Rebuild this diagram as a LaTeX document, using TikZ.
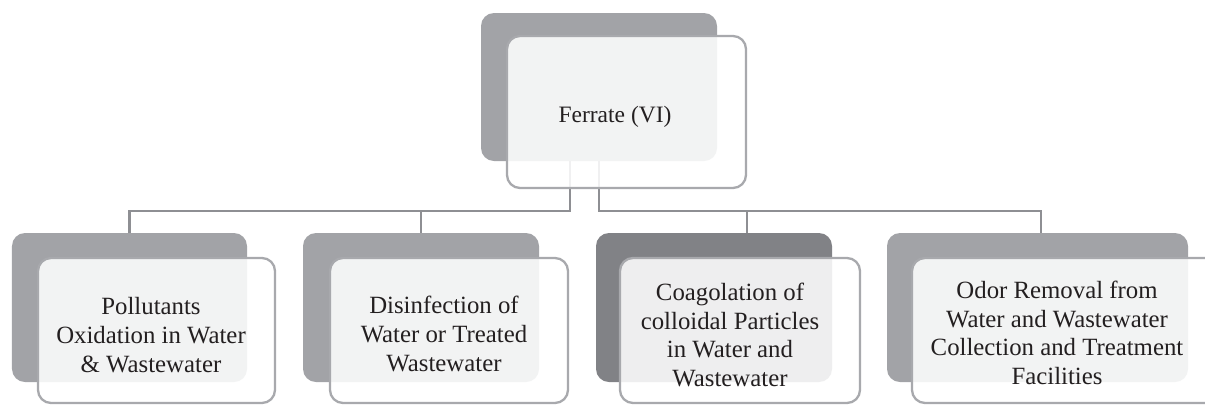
\documentclass[tikz,border=0pt]{standalone}
\usepackage{fontspec}
\setmainfont{Liberation Serif}
\definecolor{boxgray}{HTML}{A2A3A7}
\definecolor{boxdark}{HTML}{818286}
\definecolor{linegray}{HTML}{8E8F93}
\definecolor{edgegray}{HTML}{A8A9AD}
\definecolor{inkcol}{HTML}{231F20}
\begin{document}
\begin{tikzpicture}[x=1bp,y=-1bp,
  darkbox/.style={draw=none, fill=boxgray, rounded corners=13bp, inner sep=0pt, minimum width=236bp, minimum height=149bp},
  lightbox/.style={draw=edgegray, line width=2.3bp, fill=white, fill opacity=0.87, rounded corners=13bp, inner sep=0pt, minimum width=238bp, minimum height=145bp},
  txt/.style={align=center, font=\fontsize{24.8bp}{28.6bp}\selectfont, text=inkcol, inner sep=0pt},
  conn/.style={draw=linegray, line width=2.6bp}]
\useasboundingbox (0,0) rectangle (1205,405);
\clip (0,0) rectangle (1205,405);
% dark back boxes
\node[darkbox, minimum height=148bp] (td) at (599,87) {};
\node[darkbox, minimum width=235bp] (d1) at (129.5,307.5) {};
\node[darkbox] (d2) at (421,307.5) {};
\node[darkbox, fill=boxdark] (d3) at (714,307.5) {};
\node[darkbox, minimum width=301bp] (d4) at (1037.5,307.5) {};
% connectors
\coordinate (jl) at (570,211);
\coordinate (jr) at (599,211);
\coordinate (c3) at (d3.north -| 747,0);
\coordinate (c4) at (d4.north -| 1041,0);
\draw[conn] (td.south -| jl) -- (jl) -| (d1.north);
\draw[conn] (jl) -| (d2.north);
\draw[conn] (td.south -| jr) -- (jr) -| (c4);
\draw[conn] (jr) -| (c3);
% light front boxes
\node[lightbox, minimum width=239bp, minimum height=152bp] (tl) at (626.5,112) {};
\node[lightbox, minimum width=237bp] (l1) at (156.5,330.5) {};
\node[lightbox] (l2) at (449,330.5) {};
\node[lightbox, minimum width=240bp] (l3) at (740,330.5) {};
\node[lightbox, minimum width=320bp] (l4) at (1072,330.5) {};
% texts
\node[txt, font=\fontsize{23.5bp}{28.6bp}\selectfont, anchor=base] (t0) at (615,122) {Ferrate (VI)};
\node[txt] (t1) at (151,335) {Pollutants\\Oxidation in Water\\\& Wastewater};
\node[txt] (t2) at (444,334) {Disinfection of\\Water or Treated\\Wastewater};
\node[txt] (t3) at (730,335) {Coagolation of\\colloidal Particles\\in Water and\\Wastewater};
\node[txt] (t4) at (1057,333) {Odor Removal from\\Water and Wastewater\\Collection and Treatment\\Facilities};
\end{tikzpicture}
\end{document}
